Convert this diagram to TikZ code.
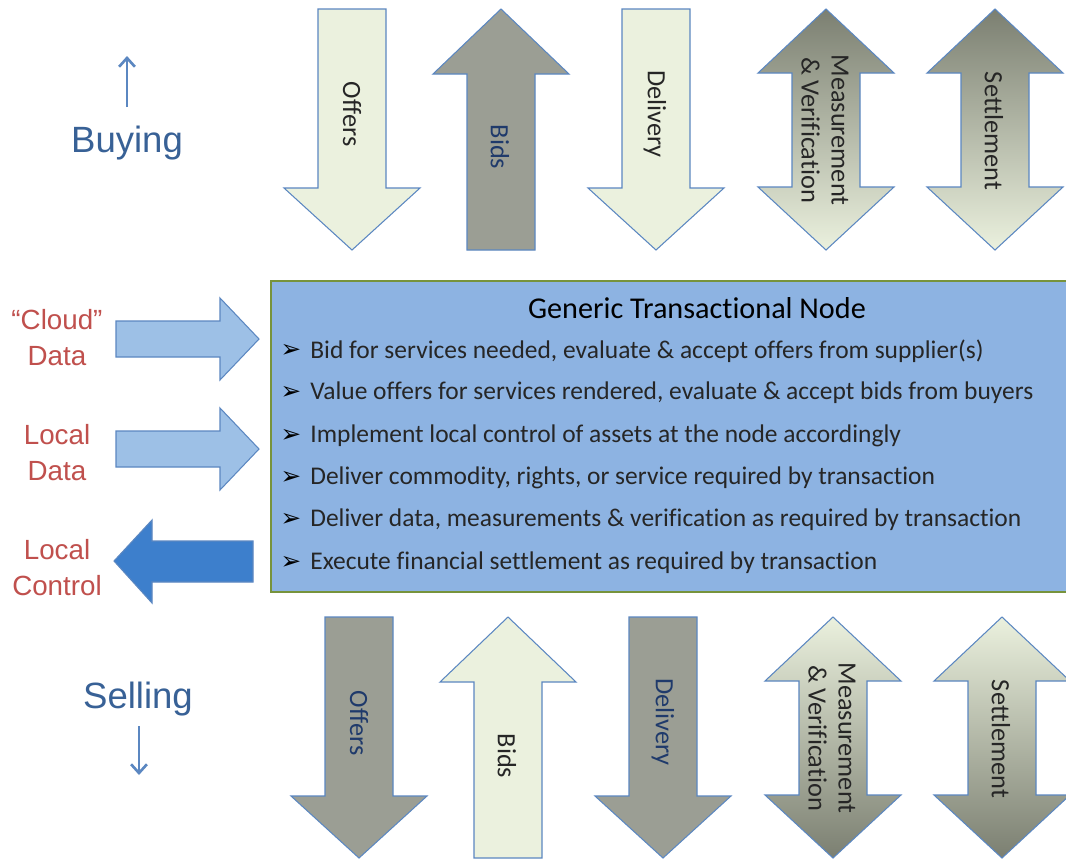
\documentclass[tikz,border=0pt]{standalone}
\usepackage{fontspec}
\setmainfont{Carlito}[Ligatures=NoCommon]
\newfontfamily\lblfont{Liberation Sans}
\newfontfamily\symfont{DejaVu Sans}
\usetikzlibrary{arrows.meta}

\definecolor{lightfill}{HTML}{EBF1DE}
\definecolor{grayfill}{HTML}{9B9E94}
\definecolor{darkgrad}{HTML}{7B7F71}
\definecolor{edgeblue}{HTML}{5B87C1}
\definecolor{navytxt}{HTML}{1F3A6B}
\definecolor{blacktxt}{HTML}{262626}
\definecolor{nodefill}{HTML}{8DB3E2}
\definecolor{nodeedge}{HTML}{77933C}
\definecolor{datafill}{HTML}{9DC0E6}
\definecolor{ctlfill}{HTML}{3D7FCC}
\definecolor{redlbl}{HTML}{C0504D}
\definecolor{bluelbl}{HTML}{386196}

% block arrows: centre x, top y, style
\newcommand{\dnblk}[3]{\draw[#3] (#1-34,#2) -- (#1+34,#2) -- (#1+34,#2+179) -- (#1+68,#2+179) -- (#1,#2+241) -- (#1-68,#2+179) -- (#1-34,#2+179) -- cycle;}
\newcommand{\upblk}[3]{\draw[#3] (#1,#2) -- (#1+68,#2+65) -- (#1+34,#2+65) -- (#1+34,#2+241) -- (#1-34,#2+241) -- (#1-34,#2+65) -- (#1-68,#2+65) -- cycle;}
\newcommand{\dblblk}[3]{\draw[#3] (#1,#2) -- (#1+68,#2+64) -- (#1+34,#2+64) -- (#1+34,#2+178) -- (#1+68,#2+178) -- (#1,#2+241) -- (#1-68,#2+178) -- (#1-34,#2+178) -- (#1-34,#2+64) -- (#1-68,#2+64) -- cycle;}
% tail x, centre y, style
\newcommand{\rtblk}[3]{\draw[#3] (#1,#2-18) -- (#1+104,#2-18) -- (#1+104,#2-41) -- (#1+143,#2) -- (#1+104,#2+41) -- (#1+104,#2+18) -- (#1,#2+18) -- cycle;}

\tikzset{
  blk/.style={draw=edgeblue, line width=0.6pt, line join=miter},
  lightblk/.style={blk, fill=lightfill},
  grayblk/.style={blk, fill=grayfill},
  topgrad/.style={blk, top color=darkgrad, bottom color=lightfill},
  botgrad/.style={blk, top color=lightfill, bottom color=darkgrad},
  datablk/.style={blk, fill=datafill},
  ctlblk/.style={blk, fill=ctlfill},
  arrtxt/.style={rotate=-90, font=\fontsize{15}{17}\selectfont, align=center, inner sep=0pt},
  lbl/.style={font=\lblfont\fontsize{15.8}{20.5}\selectfont, text=redlbl, align=center},
  dirlbl/.style={font=\lblfont\fontsize{20.8}{25}\selectfont, text=bluelbl, anchor=base},
  dirarrow/.style={draw=edgeblue, line width=1.5pt, -{Straight Barb[length=5pt,width=9pt]}},
  nodebox/.style={draw=nodeedge, line width=1.6pt, fill=nodefill},
  item/.style={anchor=west, font=\fontsize{14.5}{16}\selectfont, text=blacktxt, inner sep=0pt},
  bulletmk/.style={font=\symfont\fontsize{14}{14}\selectfont, text=black, inner sep=0pt}
}

\begin{document}
\begin{tikzpicture}[x=0.02cm,y=-0.02cm]
	\fill[white] (0,0) rectangle (1066,860);
	\clip (0,0) rectangle (1066,860);
	% buying side
	\dnblk{352}{9}{lightblk}
	\upblk{501}{9}{grayblk}
	\dnblk{656}{9}{lightblk}
	\dblblk{826}{9}{topgrad}
	\dblblk{995}{9}{topgrad}
	\node[arrtxt, text=blacktxt] (offT) at (352,114) {Offers};
	\node[arrtxt, text=navytxt] (bidT) at (500,147) {Bids};
	\node[arrtxt, text=blacktxt] (delT) at (655,114) {Delivery};
	\node[arrtxt, text=blacktxt] (mvT) at (825,130) {Measurement\\\& Verification};
	\node[arrtxt, text=blacktxt] (setT) at (994,131) {Settlement};
	% selling side
	\dnblk{359}{617}{grayblk}
	\upblk{508}{617}{lightblk}
	\dnblk{663}{617}{grayblk}
	\dblblk{833}{617}{botgrad}
	\dblblk{1002}{617}{botgrad}
	\node[arrtxt, text=navytxt] (offS) at (359,723) {Offers};
	\node[arrtxt, text=blacktxt] (bidS) at (507,756) {Bids};
	\node[arrtxt, text=navytxt] (delS) at (663,722) {Delivery};
	\node[arrtxt, text=blacktxt] (mvS) at (832,738) {Measurement\\\& Verification};
	\node[arrtxt, text=blacktxt] (setS) at (1001,739) {Settlement};
	% direction labels
	\node[dirlbl] (buy) at (127,152) {Buying};
	\coordinate (buyA) at (127,107);
	\coordinate (buyB) at (127,56);
	\draw[dirarrow] (buyA) -- (buyB);
	\node[dirlbl] (sell) at (138,708) {Selling};
	\coordinate (sellA) at (139,726);
	\coordinate (sellB) at (139,775);
	\draw[dirarrow] (sellA) -- (sellB);
	% the node
	\draw[nodebox] (271,281) rectangle (1080,592);
	\node[font=\fontsize{17.2}{19}\selectfont] (title) at (697,308) {Generic Transactional Node};
	\node[bulletmk] (m1) at (291,351) {➢};
	\node[bulletmk] (m2) at (291,393) {➢};
	\node[bulletmk] (m3) at (291,436) {➢};
	\node[bulletmk] (m4) at (291,478) {➢};
	\node[bulletmk] (m5) at (291,520) {➢};
	\node[bulletmk] (m6) at (291,563) {➢};
	\node[item] (i1) at (310,351) {Bid for services needed, evaluate \& accept offers from supplier(s)};
	\node[item] (i2) at (310,393) {Value offers for services rendered, evaluate \& accept bids from buyers};
	\node[item] (i3) at (310,436) {Implement local control of assets at the node accordingly};
	\node[item] (i4) at (310,478) {Deliver commodity, rights, or service required by transaction};
	\node[item] (i5) at (310,520) {Deliver data, measurements \& verification as required by transaction};
	\node[item] (i6) at (310,563) {Execute financial settlement as required by transaction};
	% data in, control out
	\rtblk{116}{339}{datablk}
	\rtblk{116}{449}{datablk}
	\draw[ctlblk] (253,541) -- (152,541) -- (152,520) -- (114,561) -- (152,603) -- (152,582) -- (253,582) -- cycle;
	\node[lbl] (cloud) at (57,338) {“Cloud”\\Data};
	\node[lbl] (ldata) at (57,453) {Local\\Data};
	\node[lbl] (lctl) at (57,568) {Local\\Control};
\end{tikzpicture}
\end{document}
